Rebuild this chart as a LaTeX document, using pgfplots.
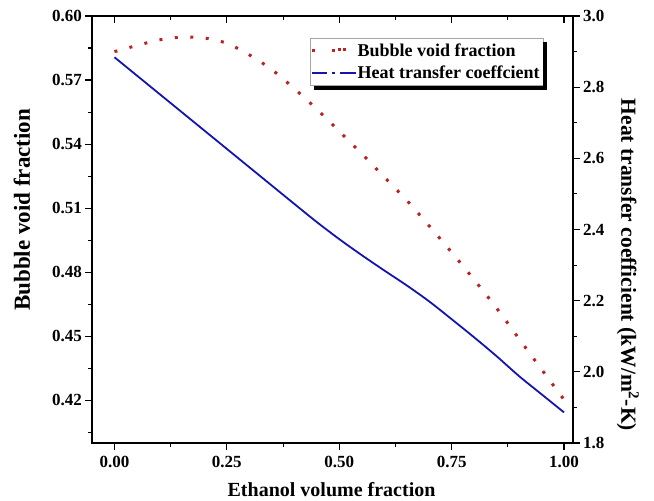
\documentclass[border=0pt]{standalone}
\usepackage{fontspec}
\setmainfont{Liberation Serif}
\usepackage{pgfplots}
\pgfplotsset{compat=1.18}
\definecolor{redc}{RGB}{185,35,40}
\definecolor{bluec}{RGB}{20,20,175}

\begin{document}
\begin{tikzpicture}
\pgfplotsset{
  every axis/.append style={
    scale only axis, width=481pt, height=427pt,
    xmin=-0.05, xmax=1.02,
    at={(0,0)}, anchor=south west,
    axis line style={line width=1.2pt},
    every tick/.style={line width=1.1pt, black},
    major tick length=6.5pt, minor tick length=3.5pt,
    tick label style={font=\fontsize{17}{20}\selectfont\bfseries},
    label style={font=\fontsize{20}{24}\selectfont\bfseries},
    /pgf/number format/assume math mode=true,
  }
}
% left axis: bubble void fraction
\begin{axis}[
  ymin=0.40, ymax=0.60,
  xtick={0,0.25,0.5,0.75,1}, minor xtick={0.125,0.375,0.625,0.875},
  ytick={0.42,0.45,0.48,0.51,0.54,0.57,0.60},
  minor ytick={0.405,0.435,0.465,0.495,0.525,0.555,0.585},
  xtick pos=left, ytick pos=left, tick align=outside,
  xticklabel style={yshift=-3pt, /pgf/number format/.cd, fixed, fixed zerofill, precision=2},
  yticklabel style={/pgf/number format/.cd, fixed, fixed zerofill, precision=2},
  xlabel={Ethanol volume fraction}, ylabel={Bubble void fraction},
  xlabel style={at={(axis description cs:0.498,-0.108)}, anchor=center},
  ylabel style={at={(axis description cs:-0.1455,0.546)}, anchor=center,
    font=\fontsize{23}{26}\selectfont\bfseries},
]
\addplot[redc, line width=3pt, dash pattern=on 3pt off 12.5pt, smooth] coordinates {
(0.00,0.5833) (0.05,0.5862) (0.10,0.5888) (0.15,0.5901) (0.20,0.5897)
(0.25,0.5872) (0.30,0.5818) (0.35,0.5749) (0.40,0.5660) (0.45,0.5564)
(0.50,0.5460) (0.55,0.5355) (0.60,0.5246) (0.65,0.5137) (0.70,0.5017)
(0.75,0.4893) (0.80,0.4765) (0.85,0.4632) (0.90,0.4488) (0.95,0.4345)
(1.00,0.4203)};
\end{axis}
% right axis: heat transfer coefficient
\begin{axis}[
  ymin=1.8, ymax=3.0, axis y line*=right, axis x line=none,
  ytick={1.8,2.0,2.2,2.4,2.6,2.8,3.0},
  minor ytick={1.9,2.1,2.3,2.5,2.7,2.9},
  tick align=outside,
  yticklabel style={/pgf/number format/.cd, fixed, fixed zerofill, precision=1},
  ylabel={Heat transfer coefficient (kW/m\textsuperscript{2}-K)},
  ylabel style={at={(axis description cs:1.114,0.417)}, anchor=center, rotate=180,
    font=\fontsize{21.5}{24}\selectfont\bfseries},
]
\addplot[bluec, line width=1.8pt, smooth] coordinates {
(0.00,2.884) (0.10,2.781) (0.20,2.678) (0.30,2.575) (0.40,2.472) (0.45,2.421)
(0.50,2.373) (0.55,2.328) (0.60,2.285) (0.65,2.243) (0.70,2.198) (0.75,2.148)
(0.80,2.097) (0.85,2.044) (0.90,1.988) (0.95,1.937) (1.00,1.886)};
\end{axis}
% top axis with inward ticks and the legend
\begin{axis}[
  ymin=0, ymax=1, axis x line*=top, axis y line=none,
  xtick={0,0.25,0.5,0.75,1}, minor xtick={0.125,0.375,0.625,0.875},
  major tick length=7pt, minor tick length=4.5pt,
  tick align=inside, xticklabels={},
  legend cell align=left,
  legend style={name=leg, at={(axis description cs:0.453,0.949)}, anchor=north west,
    draw=gray!70, line width=0.6pt, fill=white,
    font=\fontsize{18}{21}\selectfont\bfseries, inner xsep=2pt, inner ysep=4pt, row sep=5pt,
    nodes={inner sep=1.5pt},
    /tikz/every even column/.append style={column sep=2pt}},
]
\addlegendimage{legend image code/.code={
  \fill[redc, draw=none] (0pt,-1.5pt) rectangle +(3pt,3pt);
  \fill[redc, draw=none] (20pt,-1.5pt) rectangle +(3pt,3pt);
  \fill[redc, draw=none] (26pt,0pt) rectangle +(3pt,3pt);
  \fill[redc, draw=none] (31pt,0pt) rectangle +(3pt,3pt);
  \fill[white, draw=none, opacity=0] (34pt,0pt) rectangle (44pt,0.5pt);}}
\addlegendentry{Bubble void fraction}
\addlegendimage{legend image code/.code={
  \fill[bluec, draw=none] (0pt,-1.3pt) rectangle (15pt,1.3pt);
  \fill[bluec, draw=none] (20pt,-1.3pt) rectangle (23pt,1.3pt);
  \fill[bluec, draw=none] (28pt,-1.3pt) rectangle (44pt,1.3pt);}}
\addlegendentry{Heat transfer coeffcient}
\end{axis}
\fill[black] ([xshift=4pt]leg.south west) rectangle ([xshift=4pt,yshift=-4pt]leg.south east);
\fill[black] ([yshift=-4pt]leg.north east) rectangle ([xshift=4pt]leg.south east);
\pgfresetboundingbox
\path (-92pt,-58pt) rectangle (562pt,443pt);
\end{tikzpicture}
\end{document}
